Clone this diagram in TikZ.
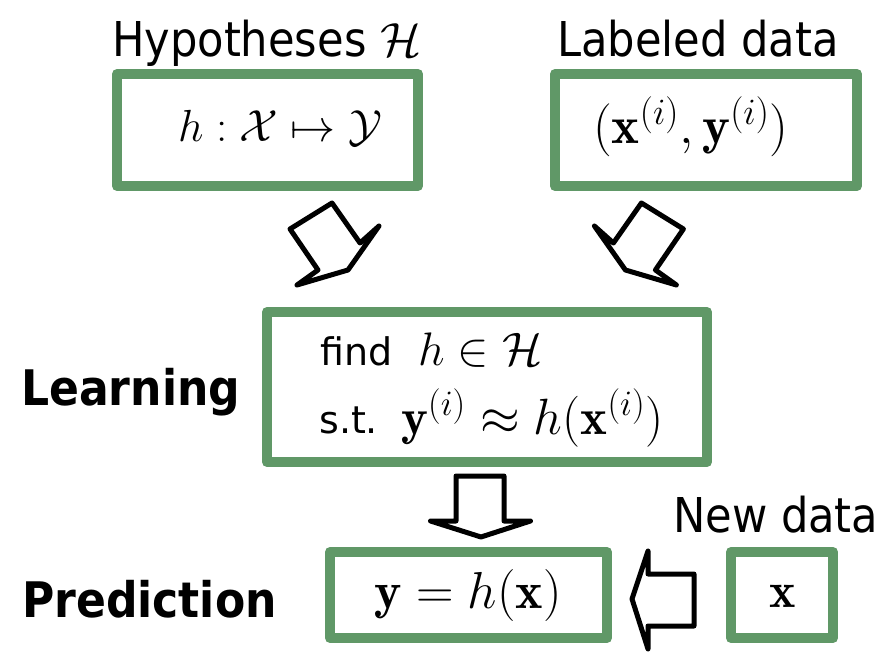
\RequirePackage{fix-cm}
\documentclass[tikz,border=0pt]{standalone}
\usepackage{fontspec}
\newfontfamily\tahoma{DejaVu Sans Condensed}
\newfontfamily\verd{DejaVu Sans}
\definecolor{boxgreen}{RGB}{96,152,103}
\begin{document}
\begin{tikzpicture}[x=1pt,y=-1pt,
  box/.style={draw=boxgreen,line width=10pt,line join=round,fill=white,inner sep=0pt,outer sep=0pt},
  lbl/.style={anchor=base west,inner sep=0pt,font=\tahoma\fontsize{48}{56}\selectfont},
  headlbl/.style={anchor=base west,inner sep=0pt,font=\tahoma\bfseries\fontsize{49}{56}\selectfont},
  mth/.style={anchor=base west,inner sep=0pt,font=\fontsize{#1}{50}\selectfont},
  barrow/.style={draw=black,line width=5pt,line join=round,fill=white}]
\useasboundingbox (0,0) rectangle (886,660);
\fill[white] (0,0) rectangle (886,660);

% boxes
\node[box,minimum width=301pt,minimum height=112pt] (hyp) at (267.5,130) {};
\node[box,minimum width=302pt,minimum height=112pt] (lab) at (706,130) {};
\node[box,minimum width=440pt,minimum height=150pt] (learn) at (487,387) {};
\node[box,minimum width=277pt,minimum height=86pt] (pred) at (468.5,595) {};
\node[box,minimum width=102pt,minimum height=86pt] (new) at (782,595) {};

% titles
\node[lbl] (hyplbl) at (112,57) {Hypotheses $\mathcal{H}$};
\node[lbl] (lablbl) at (557,57) {Labeled data};
\node[lbl] (newlbl) at (673,532) {New data};
\node[headlbl] (learnlbl) at (21,405) {Learning};
\node[headlbl] (predlbl) at (22,617) {Prediction};

% box contents
\node[mth=45] (hyptxt) at (178,142) {$h:\mathcal{X}\mapsto\mathcal{Y}$};
\node[mth=53] (labtxt) at (593,144) {$(\mathbf{x}^{(i)},\mathbf{y}^{(i)})$};
\node[mth=38,font=\verd\fontsize{38}{44}\selectfont] (findtxt) at (320,365) {find};
\node[mth=47] (findmath) at (418,365) {$h\in\mathcal{H}$};
\node[mth=38,font=\verd\fontsize{38}{44}\selectfont] (sttxt) at (319,433) {s.t.};
\node[mth=51] (stmath) at (401,434) {$\mathbf{y}^{(i)}\approx h(\mathbf{x}^{(i)})$};
\node[mth=52] (predtxt) at (374,608) {$\mathbf{y}=h(\mathbf{x})$};
\node[mth=50] (newtxt) at (769,607) {$\mathbf{x}$};

% block arrows
\draw[barrow] (290,229) -- (332,203) -- (360,243) -- (379,226) -- (348,270) -- (297,285) -- (318,270) -- cycle;
\draw[barrow] (683.4,229) -- (641.4,203) -- (613.4,243) -- (594.4,226) -- (625.4,270) -- (676.4,285) -- (655.4,270) -- cycle;
\draw[barrow] (456,476) -- (504,476) -- (504,521) -- (530.5,521) -- (481,537) -- (430.5,521) -- (456,521) -- cycle;
\draw[barrow] (694,574) -- (648,574) -- (648,551) -- (632,599) -- (648,649) -- (648,626) -- (694,626) -- cycle;
\end{tikzpicture}
\end{document}
